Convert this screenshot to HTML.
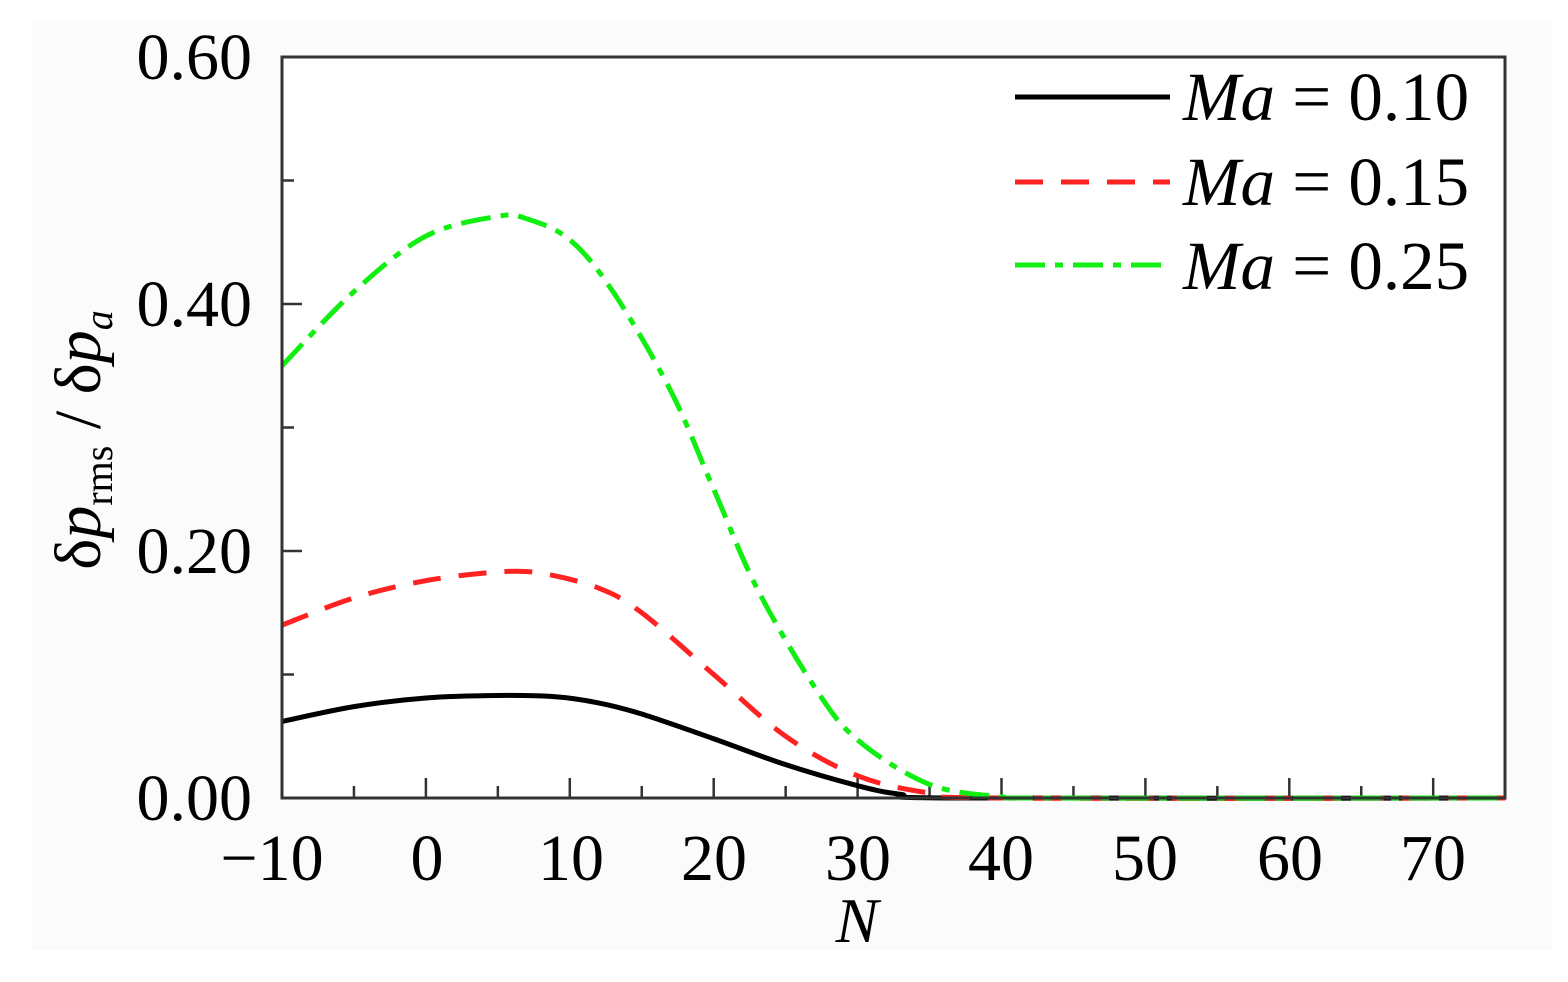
<!DOCTYPE html>
<html><head><meta charset="utf-8"><style>
html,body{margin:0;padding:0;background:#fff;}
svg{display:block;}
text{font-family:"Liberation Serif",serif;fill:#000;}
</style></head><body>
<svg id="s" width="1568" height="982" viewBox="0 0 1568 982" xmlns="http://www.w3.org/2000/svg">
<rect x="0" y="0" width="1568" height="982" fill="#fff"/>
<rect x="32" y="20" width="1520" height="930" fill="#fbfbfb"/>
<rect x="282" y="57" width="1223" height="741" fill="#fff"/>
<g id="ticks" stroke="#333" stroke-width="2.5"></g>
<g id="curves" fill="none"></g>
<rect x="282" y="57" width="1223" height="741" fill="none" stroke="#333" stroke-width="3"/>
<g font-size="66" text-anchor="end">
<text x="252" y="820">0.00</text>
<text x="252" y="573">0.20</text>
<text x="252" y="326">0.40</text>
<text x="252" y="79">0.60</text>
</g>
<g font-size="66" text-anchor="middle">
<text x="272" y="880">−10</text>
<text x="427" y="880">0</text>
<text x="571" y="880">10</text>
<text x="714" y="880">20</text>
<text x="858" y="880">30</text>
<text x="1001" y="880">40</text>
<text x="1145" y="880">50</text>
<text x="1290" y="880">60</text>
<text x="1433" y="880">70</text>
</g>
<text x="857" y="942" font-size="64" font-style="italic" text-anchor="middle">N</text>
<text transform="translate(100,440) rotate(-90)" font-size="66" text-anchor="middle">δ<tspan font-style="italic">p</tspan><tspan font-size="40" dy="12">rms</tspan><tspan dy="-12"> / δ</tspan><tspan font-style="italic">p</tspan><tspan font-size="40" font-style="italic" dy="12">a</tspan></text>
<g font-size="69">
<line x1="1015" y1="97" x2="1170" y2="97" stroke="#000" stroke-width="5"/>
<text x="1183" y="120"><tspan font-style="italic">Ma</tspan> = 0.10</text>
<line x1="1015" y1="182" x2="1170" y2="182" stroke="#f22" stroke-width="5" stroke-dasharray="28,18"/>
<text x="1183" y="205"><tspan font-style="italic">Ma</tspan> = 0.15</text>
<line x1="1015" y1="265" x2="1165" y2="265" stroke="#1e1" stroke-width="5" stroke-dasharray="30,10,8,10"/>
<text x="1183" y="289"><tspan font-style="italic">Ma</tspan> = 0.25</text>
</g>
</svg>
<script>
var X=n=>282+(n+10)*14.39, Y=v=>798-v*1235;
var t=document.getElementById('ticks'),h='';
for(var n=-5;n<75;n+=5){var L=(n%10==0)?20:12;h+='<line x1="'+X(n)+'" y1="798" x2="'+X(n)+'" y2="'+(798-L)+'"/>';}
for(var k=1;k<6;k++){var L=(k%2==0)?20:12;h+='<line x1="282" y1="'+Y(k*0.1)+'" x2="'+(282+L)+'" y2="'+Y(k*0.1)+'"/>';}
t.innerHTML=h;
function path(p){var pts=p.map(a=>[X(a[0]),Y(a[1])]);var d='M'+pts[0][0]+','+pts[0][1];
for(var i=0;i<pts.length-1;i++){var p0=pts[i-1]||pts[i],p1=pts[i],p2=pts[i+1],p3=pts[i+2]||p2;
d+=' C'+(p1[0]+(p2[0]-p0[0])/6)+','+(p1[1]+(p2[1]-p0[1])/6)+' '+(p2[0]-(p3[0]-p1[0])/6)+','+(p2[1]-(p3[1]-p1[1])/6)+' '+p2[0]+','+p2[1];}return d;}
var black=[[-10,0.062],[-5,0.074],[0,0.081],[5,0.083],[9,0.082],[12,0.077],[15,0.068],[20,0.048],[25,0.027],[30,0.010],[33,0.003],[37,0],[75,0]];
var red=[[-10,0.14],[-5,0.162],[0,0.176],[5,0.183],[8,0.182],[12,0.170],[15,0.15],[20,0.10],[25,0.05],[30,0.018],[35,0.004],[40,0],[75,0]];
var green=[[-10,0.35],[-5,0.41],[0,0.455],[5,0.471],[7,0.469],[10,0.452],[13,0.41],[17,0.33],[20,0.25],[23,0.17],[27,0.09],[30,0.047],[35,0.011],[40,0.001],[43,0],[75,0]];
document.getElementById('curves').innerHTML=
'<path d="'+path(black)+'" stroke="#000" stroke-width="5"/>'+
'<path d="'+path(red)+'" stroke="#f22" stroke-width="5" stroke-dasharray="28,18"/>'+
'<path d="'+path(green)+'" stroke="#1e1" stroke-width="5" stroke-dasharray="30,10,8,10"/>';
</script>
</body></html>
